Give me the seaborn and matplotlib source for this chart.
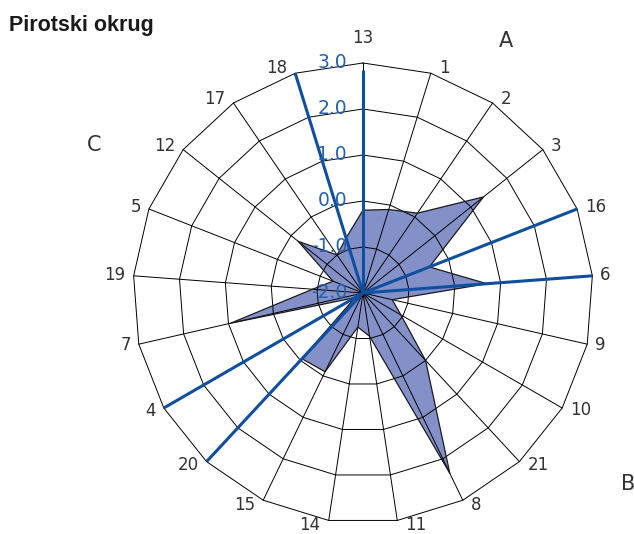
"""Radar chart: Pirotski okrug."""

import numpy as np

import matplotlib
matplotlib.use("Agg")
import matplotlib.pyplot as plt
import seaborn as sns

# categories clockwise from the top
categories = ["13", "1", "2", "3", "16", "6", "9", "10", "21", "8", "11",
              "14", "15", "20", "4", "7", "19", "5", "12", "17", "18"]
values = [-0.20, -0.10, 0.10, 1.35, -0.45, 0.70, -1.35, -1.05, 0.00, 2.35, -1.05,
          -1.25, -0.10, -0.05, -1.80, 0.95, -0.90, -1.30, -0.20, -1.00, -0.75]

# blue separator lines
marker_cats = ["13", "16", "6", "4", "20", "18"]
marker_vals = [2.85, 3.0, 3.0, 3.0, 3.0, 3.0]

r_min, r_max = -2.0, 3.0
ring_levels = [-1.0, 0.0, 1.0, 2.0, 3.0]
tick_levels = [-2.0, -1.0, 0.0, 1.0, 2.0, 3.0]
tick_labels = ["-2.0", "-1.0", "0.0", "1.0", "2.0", "3.0"]
group_labels = ["A", "B", "C"]

FILL = "#8491C8"
BLUE = "#0E4FA0"
TICK_BLUE = "#2462B0"
TEXT = "#333333"

sns.set_style("white")
plt.rcParams["font.family"] = ["DejaVu Sans"]

fig = plt.figure(figsize=(6.34, 5.34), dpi=100)
W, H = 634, 534
cx, cy, R = 363, 293, 230
ax = fig.add_axes([(cx - R) / W, (H - cy - R) / H, 2 * R / W, 2 * R / H],
                  projection="polar")
ax.set_theta_zero_location("N")
ax.set_theta_direction(-1)
ax.set_ylim(r_min, r_max)
ax.grid(False)
ax.set_xticks([])
ax.set_yticks([])
ax.spines["polar"].set_visible(False)

n = len(categories)
theta = np.arange(n) * 2 * np.pi / n
theta_closed = np.append(theta, 2 * np.pi)
vals_closed = np.append(values, values[0])

# data polygon
ax.fill(theta_closed, vals_closed, color=FILL, zorder=1, lw=0)

# grid: spokes + polygonal rings
for t in theta:
    ax.plot([t, t], [r_min, r_max], color="black", lw=0.7, zorder=2, clip_on=False)
for lev in ring_levels:
    ax.plot(theta_closed, [lev] * (n + 1), color="black", lw=0.7, zorder=2,
            clip_on=False)

sns.lineplot(x=theta_closed, y=vals_closed, sort=False, estimator=None,
             color="#1a1a1a", lw=0.9, ax=ax, zorder=3)

# blue separator lines
for cat, v in zip(marker_cats, marker_vals):
    t = theta[categories.index(cat)]
    ax.plot([t, t], [r_min, v], color=BLUE, lw=2.2, zorder=4, clip_on=False,
            solid_capstyle="butt")

# value axis labels
for lev, lab in zip(tick_levels, tick_labels):
    ax.annotate(lab, xy=(0, lev), xytext=(-16, 0), textcoords="offset pixels",
                ha="right", va="center", fontsize=13.5, color=TICK_BLUE,
                zorder=5, annotation_clip=False)

# category labels
for t, cat in zip(theta, categories):
    s, c = np.sin(t), np.cos(t)
    if abs(s) < 0.1:
        ha, dx, dy = "center", 0, 25 if c > 0 else -20
    else:
        ha = "left" if s > 0 else "right"
        dx = 8 * np.sign(s)
        dy = 5 * c
    ax.annotate(cat, xy=(t, r_max), xytext=(dx, dy), textcoords="offset pixels",
                ha=ha, va="center", fontsize=12, color=TEXT,
                annotation_clip=False)

# group letters
for lab, (gx, gy) in zip(group_labels, [(506, 41), (628, 484), (94, 145)]):
    fig.text(gx / W, 1 - gy / H, lab, ha="center", va="center",
             fontsize=15, color=TEXT)

fig.text(9 / W, 1 - 31 / H, "Pirotski okrug", ha="left", va="baseline",
         fontsize=15.5, fontweight="bold", color="#1a1a1a",
         family=["Liberation Sans", "DejaVu Sans"])

fig.savefig("out.png", dpi=100)
plt.close(fig)
